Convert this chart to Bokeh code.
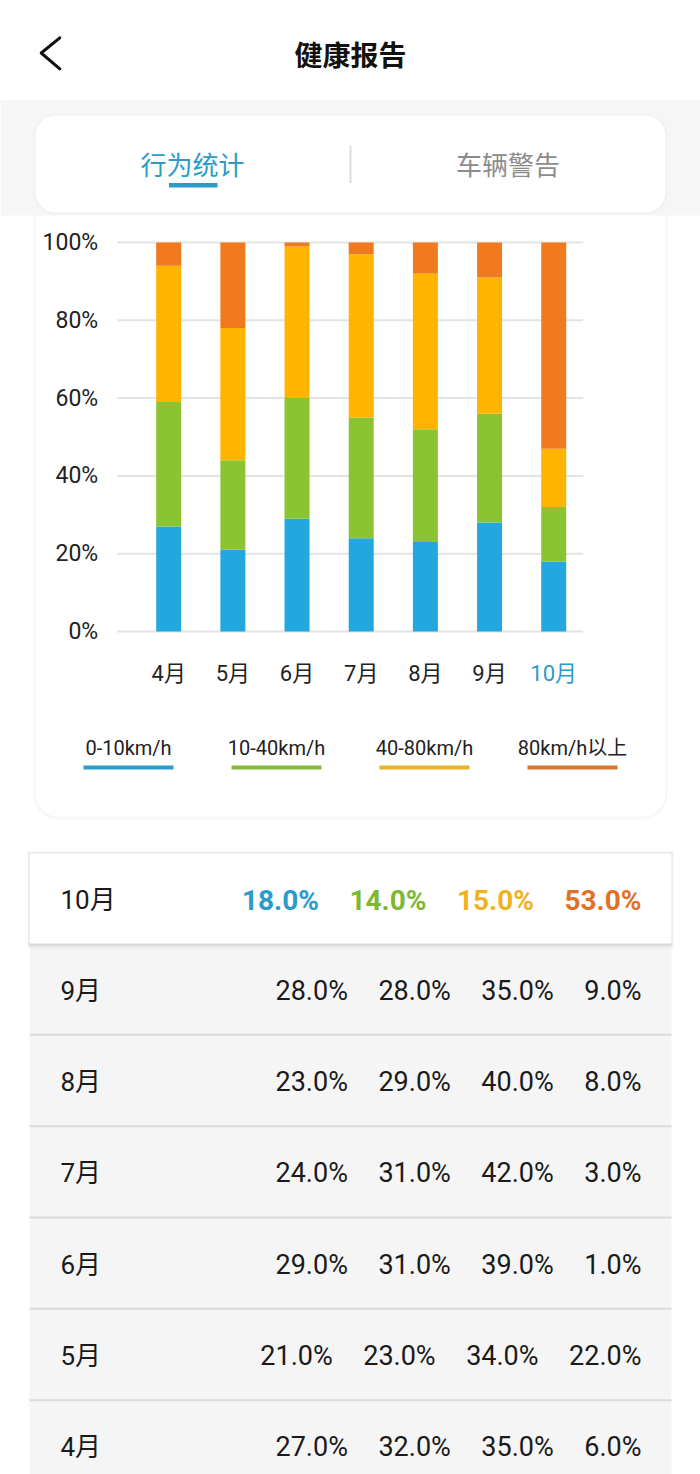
from bokeh.plotting import figure
from bokeh.models import Range1d, LinearAxis, FixedTicker, ColumnDataSource, PrintfTickFormatter
from bokeh.core.properties import value
from bokeh.embed import file_html
from bokeh.resources import INLINE

# ---------------- data ----------------
MONTHS = ["4月", "5月", "6月", "7月", "8月", "9月", "10月"]
SERIES = ["0-10km/h", "10-40km/h", "40-80km/h", "80km/h以上"]
S_LOW = [27, 21, 29, 24, 23, 28, 18]
S_MID = [32, 23, 31, 31, 29, 28, 14]
S_HIGH = [35, 34, 39, 42, 40, 35, 15]
S_TOP = [6, 22, 1, 3, 8, 9, 53]
Y_TICKS = [0, 20, 40, 60, 80, 100]
TITLE = "健康报告"
TABS = ["行为统计", "车辆警告"]

# ---------------- styles ----------------
BAR_COLORS = ["#22a8de", "#8bc433", "#ffb400", "#f17a20"]
TEXT_COLORS = ["#2a9bcb", "#7db832", "#f0b21e", "#df7229"]
LEGEND_COLORS = ["#2b9dcc", "#86b93a", "#eab32a", "#d9772f"]
ACCENT = "#2b9cc8"
INK = "#1a1a1a"
CJK = "Noto Sans CJK SC"
MIX = "Roboto, Noto Sans CJK SC"

W, H = 700, 1474
PX0, PX1 = 0, 700
PY0, PY1 = 0, 1474

# chart geometry (page pixels)
BAR0, STEP = 168.2, 64.17
ZERO_PY, FULL_PY = 631.0, 242.0
UNIT = (ZERO_PY - FULL_PY) / 100.0
GRID_L, GRID_R = 116.7, 582.7


def dx(px):
    return (px - BAR0) / STEP


def dy(py):
    return (ZERO_PY - py) / UNIT


p = figure(width=W, height=H, output_backend="svg", toolbar_location=None,
           x_range=Range1d(dx(PX0), dx(PX1)), y_range=Range1d(dy(PY1), dy(PY0)),
           x_axis_type=None, y_axis_type=None, min_border=0,
           outline_line_color=None, background_fill_color="white",
           border_fill_color="white")
p.extra_x_ranges = {"px": Range1d(PX0, PX1)}
p.extra_y_ranges = {"py": Range1d(PY1, PY0)}
PXR = dict(x_range_name="px", y_range_name="py")


def box(l, r, t, b, color, alpha=1.0, radius=0):
    p.quad(left=[l], right=[r], top=[t], bottom=[b], fill_color=color,
           fill_alpha=alpha, line_color=None, border_radius=radius, **PXR)


# ---------------- cards / backgrounds ----------------
# chart card
box(32.5, 667.5, 188, 819.5, "#000000", 0.015, 25)
box(33.5, 666.5, 189, 818, "#000000", 0.02, 23)
box(35, 665, 190, 816, "#ffffff", 1, 22)
# grey band behind tabs
box(PX0, PX1, 100, 215, "#f6f6f6")
# tab card
box(33, 667, 113.5, 214.5, "#000000", 0.015, 22)
box(34, 666, 114.3, 213.2, "#000000", 0.02, 21)
box(35, 665, 115, 212, "#ffffff", 1, 20)

# table
ROW_TOP0, ROW_BOT0, ROW_H = 853.0, 943.0, 91.33
row_centers = [(ROW_TOP0 + ROW_BOT0) / 2]
row_lines = []
for k in range(1, len(MONTHS)):
    top = ROW_BOT0 + (k - 1) * ROW_H
    row_centers.append(top + ROW_H / 2)
    if k > 1:
        row_lines.append(top)
box(29, 671, ROW_BOT0, PY1, "#f5f5f5")
p.segment(x0=[29] * len(row_lines), x1=[671] * len(row_lines), y0=row_lines,
          y1=row_lines, line_color="#dadada", line_width=2, **PXR)
box(26.5, 673.5, 850.5, 948.5, "#000000", 0.025)
box(27.5, 672.5, 851.5, 946.5, "#000000", 0.04)
box(28.3, 671.7, 852.3, 945, "#000000", 0.06)
box(29, 671, ROW_TOP0, ROW_BOT0, "#ffffff")

# ---------------- header ----------------
p.line(x=[59.3, 40.7, 59.3], y=[37.3, 52.5, 68.3], line_width=3,
       line_color="#111111", line_join="round", line_cap="round", **PXR)
p.text(x=[350], y=[53], text=[TITLE], text_font=value(CJK), text_font_style="bold",
       text_font_size="28px", text_align="center", text_baseline="middle",
       text_color="#111111", **PXR)
p.text(x=[192, 507.5], y=[163, 163], text=TABS, text_font=value(CJK),
       text_font_size="26px", text_align="center", text_baseline="middle",
       text_color=[ACCENT, "#8c8c8c"], **PXR)
box(168.5, 217, 182.5, 187, ACCENT)
p.segment(x0=[350], x1=[350], y0=[145], y1=[182.5], line_color="#dedede",
          line_width=2, **PXR)

# ---------------- chart ----------------
p.segment(x0=[dx(GRID_L)] * len(Y_TICKS), x1=[dx(GRID_R)] * len(Y_TICKS),
          y0=Y_TICKS, y1=Y_TICKS, line_color="#e3e3e3", line_width=2)

keys = ["s0", "s1", "s2", "s3"]
src = ColumnDataSource(dict(x=list(range(len(MONTHS))), s0=S_LOW, s1=S_MID,
                            s2=S_HIGH, s3=S_TOP))
p.vbar_stack(keys, x="x", width=25 / STEP, color=BAR_COLORS, line_color=None,
             source=src)

AX_STYLE = dict(axis_line_color=None, major_tick_line_color=None,
                minor_tick_line_color=None, major_tick_in=0, major_tick_out=0,
                minor_tick_in=0, minor_tick_out=0)

y_axis = LinearAxis(fixed_location=dx(GRID_L), ticker=FixedTicker(ticks=Y_TICKS),
                    formatter=PrintfTickFormatter(format="%d%%"),
                    major_label_standoff=19, major_label_text_font=MIX,
                    major_label_text_font_size="23px", major_label_text_color="#222222",
                    **AX_STYLE)
p.add_layout(y_axis, "left")

n = len(MONTHS)
x_axis = LinearAxis(fixed_location=0, ticker=FixedTicker(ticks=list(range(n - 1))),
                    major_label_overrides={i: MONTHS[i] for i in range(n - 1)},
                    major_label_standoff=29, major_label_text_font=MIX,
                    major_label_text_font_size="22px", major_label_text_color="#222222",
                    **AX_STYLE)
p.add_layout(x_axis, "below")
x_axis_cur = LinearAxis(fixed_location=0, ticker=FixedTicker(ticks=[n - 1]),
                        major_label_overrides={n - 1: MONTHS[n - 1]},
                        major_label_standoff=29, major_label_text_font=MIX,
                        major_label_text_font_size="22px", major_label_text_color=ACCENT,
                        **AX_STYLE)
p.add_layout(x_axis_cur, "below")

# ---------------- legend ----------------
LEG_X0, LEG_STEP, LEG_HALF = 128, 148, 45
leg_x = [LEG_X0 + i * LEG_STEP for i in range(len(SERIES))]
p.text(x=leg_x, y=[747] * len(SERIES), text=SERIES, text_font=value(MIX),
       text_font_size="20px", text_align="center", text_baseline="middle",
       text_color="#222222", **PXR)
p.segment(x0=[c - LEG_HALF for c in leg_x], x1=[c + LEG_HALF for c in leg_x],
          y0=[767] * len(SERIES), y1=[767] * len(SERIES), line_color=LEGEND_COLORS,
          line_width=4, **PXR)

# ---------------- table ----------------
series_vals = [S_LOW, S_MID, S_HIGH, S_TOP]
order = list(range(n - 1, -1, -1))  # 10月 first
TEXT_DY = 1.5
RIGHT = 641.0


def est_width(s, size, bold):
    w = 0.0
    for ch in s:
        if ch.isdigit():
            w += 0.5625
        elif ch == ".":
            w += 0.27 if bold else 0.263
        elif ch == "%":
            w += 0.74 if bold else 0.732
    return w * size


p.text(x=[60] * n, y=[row_centers[r] + TEXT_DY for r in range(n)],
       text=[MONTHS[i] for i in order], text_font=value(MIX), text_font_size="26px",
       text_align="left", text_baseline="middle", text_color=INK, **PXR)

tx, ty, tt, tc, tsize, tstyle = [], [], [], [], [], []
for r, mi in enumerate(order):
    bold = (r == 0)
    size = 28 if bold else 27
    gap = 32 if bold else 30.5
    right = RIGHT
    for si in range(len(series_vals) - 1, -1, -1):
        s = f"{series_vals[si][mi]:.1f}%"
        tx.append(right)
        ty.append(row_centers[r] + TEXT_DY)
        tt.append(s)
        tc.append(TEXT_COLORS[si] if bold else INK)
        tsize.append(f"{size}px")
        tstyle.append("bold" if bold else "normal")
        right -= est_width(s, size, bold) + gap

tsrc = ColumnDataSource(dict(x=tx, y=ty, text=tt, color=tc, size=tsize, style=tstyle))
p.text(x="x", y="y", text="text", text_color="color", text_font_size="size",
       text_font_style="style", text_font=value("Roboto"), text_align="right",
       text_baseline="middle", source=tsrc, **PXR)

open("out.html", "w").write(file_html(p, INLINE))
